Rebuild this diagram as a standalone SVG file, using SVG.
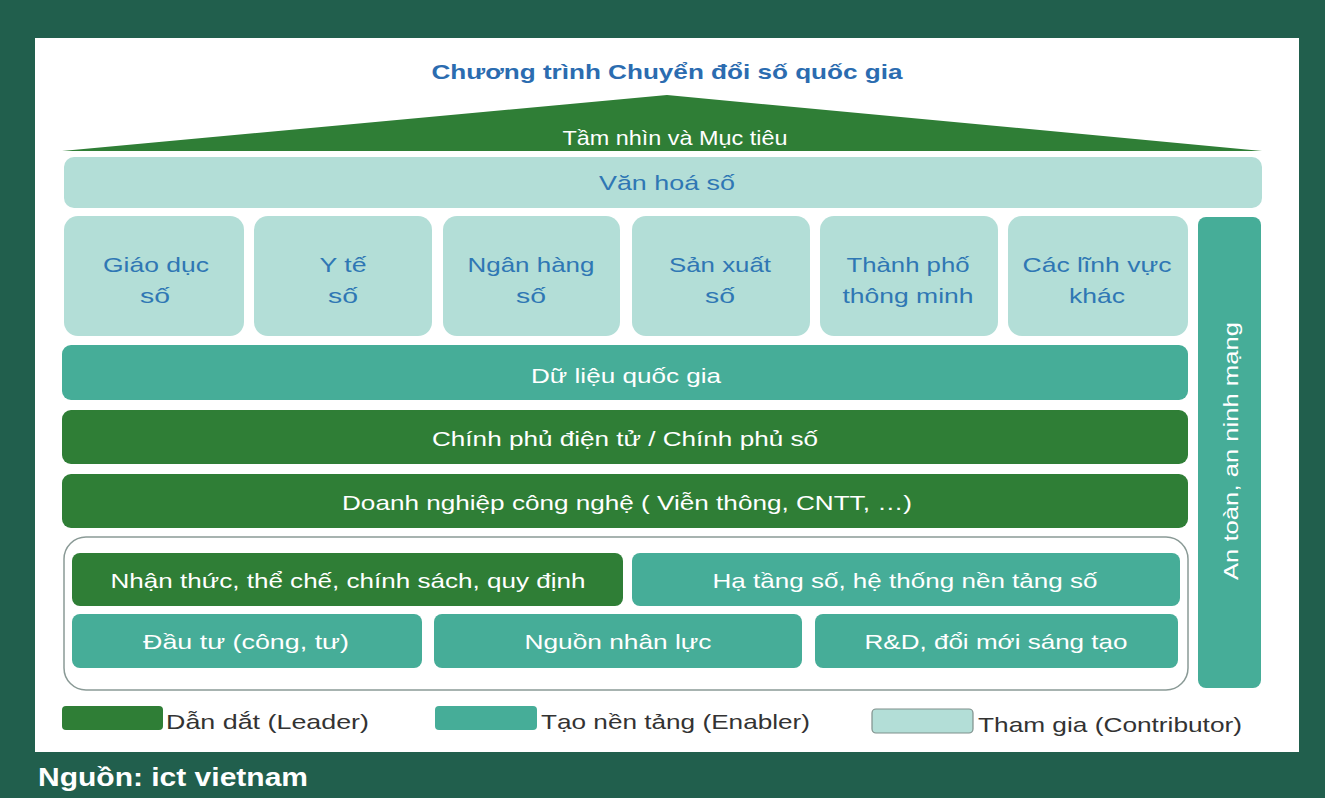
<svg xmlns="http://www.w3.org/2000/svg" width="1325" height="798" viewBox="0 0 1325 798">
<style>
text{font-family:"Liberation Sans",Arial,sans-serif;text-anchor:middle}
.lead{fill:#2f7e36}
.en{fill:#46ad98}
.con{fill:#b3ded7}
.w{fill:#ffffff;font-size:21px}
.b{fill:#2f77b4;font-size:21px}
.lg{fill:#333333;font-size:21px;text-anchor:start}
</style>
<rect x="0" y="0" width="1325" height="798" fill="#215f4d"/>
<rect x="35" y="38" width="1264" height="714" fill="#ffffff"/>
<g id="title"><text x="667" y="79" style="font-size:21px;font-weight:bold;fill:#2b6cb0" textLength="471" lengthAdjust="spacingAndGlyphs">Chương trình Chuyển đổi số quốc gia</text></g>
<g id="roof"><polygon class="lead" points="62,151 667,95 1262,151"/><text class="w" x="675" y="145" textLength="225" lengthAdjust="spacingAndGlyphs">Tầm nhìn và Mục tiêu</text></g>
<g id="vanhoa"><rect class="con" x="64" y="157" width="1198" height="51" rx="10"/><text class="b" x="667" y="190" textLength="136" lengthAdjust="spacingAndGlyphs">Văn hoá số</text></g>
<g id="giaoduc"><rect class="con" x="64" y="216" width="180" height="120" rx="14"/><text class="b" x="156" y="272" textLength="106" lengthAdjust="spacingAndGlyphs">Giáo dục</text><text class="b" x="155" y="303" textLength="30" lengthAdjust="spacingAndGlyphs">số</text></g>
<g id="yte"><rect class="con" x="254" y="216" width="178" height="120" rx="14"/><text class="b" x="343" y="272" textLength="47" lengthAdjust="spacingAndGlyphs">Y tế</text><text class="b" x="343" y="303" textLength="30" lengthAdjust="spacingAndGlyphs">số</text></g>
<g id="nganhang"><rect class="con" x="443" y="216" width="177" height="120" rx="14"/><text class="b" x="531" y="272" textLength="127" lengthAdjust="spacingAndGlyphs">Ngân hàng</text><text class="b" x="531" y="303" textLength="30" lengthAdjust="spacingAndGlyphs">số</text></g>
<g id="sanxuat"><rect class="con" x="632" y="216" width="178" height="120" rx="14"/><text class="b" x="720" y="272" textLength="102" lengthAdjust="spacingAndGlyphs">Sản xuất</text><text class="b" x="720" y="303" textLength="30" lengthAdjust="spacingAndGlyphs">số</text></g>
<g id="thanhpho"><rect class="con" x="820" y="216" width="178" height="120" rx="14"/><text class="b" x="908" y="272" textLength="123" lengthAdjust="spacingAndGlyphs">Thành phố</text><text class="b" x="908" y="303" textLength="131" lengthAdjust="spacingAndGlyphs">thông minh</text></g>
<g id="khac"><rect class="con" x="1008" y="216" width="180" height="120" rx="14"/><text class="b" x="1097" y="272" textLength="149" lengthAdjust="spacingAndGlyphs">Các lĩnh vực</text><text class="b" x="1097" y="303" textLength="56" lengthAdjust="spacingAndGlyphs">khác</text></g>
<g id="antoan"><rect class="en" x="1198" y="217" width="63" height="471" rx="8"/><text class="w" transform="translate(1238,451) rotate(-90)" x="0" y="0" textLength="258" lengthAdjust="spacingAndGlyphs">An toàn, an ninh mạng</text></g>
<g id="dulieu"><rect class="en" x="62" y="345" width="1126" height="55" rx="9"/><text class="w" x="626" y="383" textLength="190" lengthAdjust="spacingAndGlyphs">Dữ liệu quốc gia</text></g>
<g id="chinhphu"><rect class="lead" x="62" y="410" width="1126" height="54" rx="9"/><text class="w" x="625" y="446" textLength="386" lengthAdjust="spacingAndGlyphs">Chính phủ điện tử / Chính phủ số</text></g>
<g id="doanhnghiep"><rect class="lead" x="62" y="474" width="1126" height="54" rx="9"/><text class="w" x="627" y="510" textLength="570" lengthAdjust="spacingAndGlyphs">Doanh nghiệp công nghệ ( Viễn thông, CNTT, …)</text></g>
<g id="nentang"><rect x="64" y="537" width="1124" height="153" rx="22" fill="#ffffff" stroke="#8a9a96" stroke-width="1.5"/></g>
<g id="nhanthuc"><rect class="lead" x="72" y="553" width="551" height="53" rx="8"/><text class="w" x="348" y="588" textLength="475" lengthAdjust="spacingAndGlyphs">Nhận thức, thể chế, chính sách, quy định</text></g>
<g id="hatang"><rect class="en" x="632" y="553" width="548" height="53" rx="8"/><text class="w" x="905" y="588" textLength="385" lengthAdjust="spacingAndGlyphs">Hạ tầng số, hệ thống nền tảng số</text></g>
<g id="dautu"><rect class="en" x="72" y="614" width="350" height="54" rx="8"/><text class="w" x="246" y="649" textLength="206" lengthAdjust="spacingAndGlyphs">Đầu tư (công, tư)</text></g>
<g id="nhanluc"><rect class="en" x="434" y="614" width="368" height="54" rx="8"/><text class="w" x="618" y="649" textLength="187" lengthAdjust="spacingAndGlyphs">Nguồn nhân lực</text></g>
<g id="rd"><rect class="en" x="815" y="614" width="363" height="54" rx="8"/><text class="w" x="996" y="649" textLength="263" lengthAdjust="spacingAndGlyphs">R&amp;D, đổi mới sáng tạo</text></g>
<g id="legend">
<rect class="lead" x="62" y="706" width="101" height="24" rx="4"/><text class="lg" x="166" y="729" textLength="203" lengthAdjust="spacingAndGlyphs">Dẫn dắt (Leader)</text>
<rect class="en" x="435" y="706" width="102" height="24" rx="4"/><text class="lg" x="541" y="729" textLength="269" lengthAdjust="spacingAndGlyphs">Tạo nền tảng (Enabler)</text>
<rect class="con" x="872" y="709" width="101" height="24" rx="4" stroke="#7f8f8b" stroke-width="1.2"/><text class="lg" x="978" y="732" textLength="264" lengthAdjust="spacingAndGlyphs">Tham gia (Contributor)</text>
</g>
<g id="source"><text x="38" y="786" style="font-size:25px;font-weight:bold;fill:#ffffff;text-anchor:start" textLength="270" lengthAdjust="spacingAndGlyphs">Nguồn: ict vietnam</text></g>
<g id="connectors"></g>
</svg>
